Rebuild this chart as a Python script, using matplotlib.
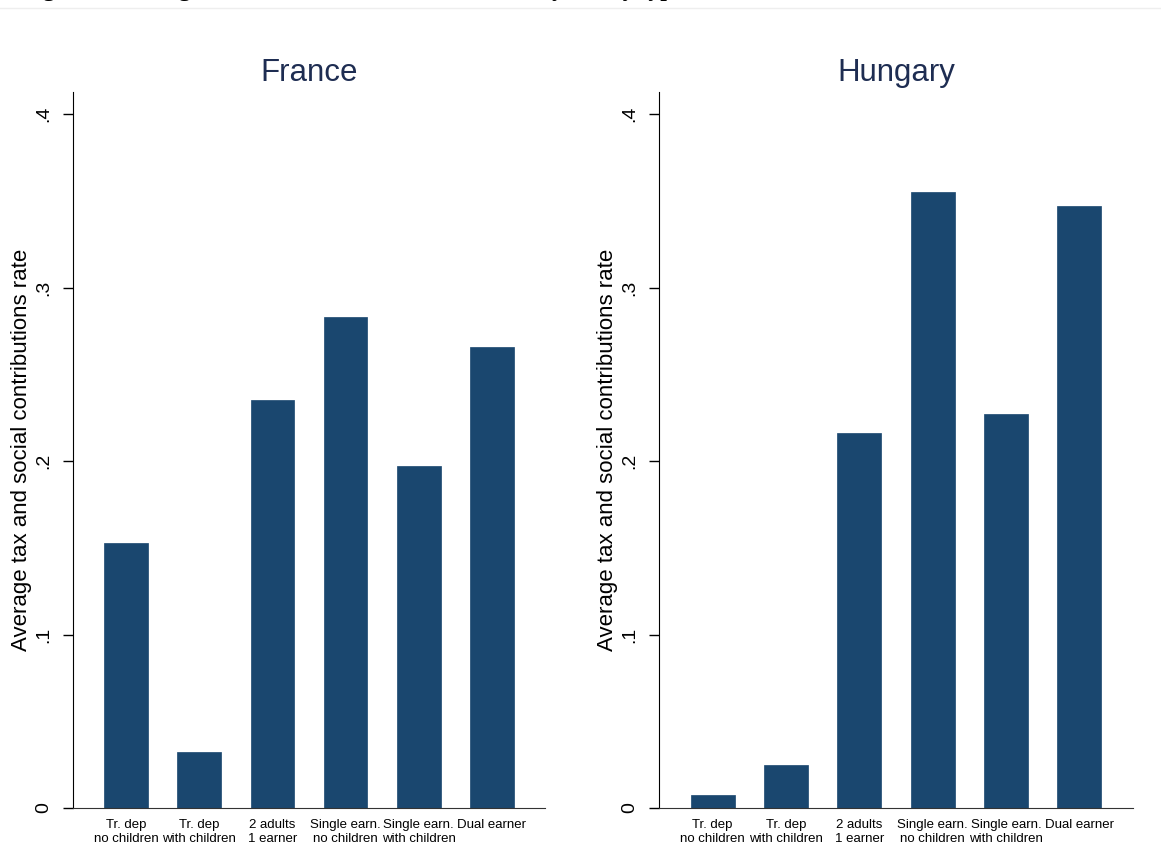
import numpy as np
import matplotlib.pyplot as plt
from matplotlib.lines import Line2D

plt.rcParams['font.family'] = ['Liberation Sans', 'DejaVu Sans']

# categorias (tipos de familia) e taxas medias
categories = ["Tr. dep\nno children", "Tr. dep\nwith children", "2 adults\n1 earner",
              "Single earn.\nno children", "Single earn.\nwith children", "Dual earner"]
france = [0.153, 0.032, 0.235, 0.283, 0.197, 0.266]
hungary = [0.0075, 0.025, 0.216, 0.355, 0.227, 0.347]
countries = ["France", "Hungary"]
yticks = [0, 0.1, 0.2, 0.3, 0.4]
ytick_labels = ["0", ".1", ".2", ".3", ".4"]

W, H = 1161, 846
fig = plt.figure(figsize=(W / 100, H / 100), dpi=100)

bar_color = "#1a476f"
title_color = "#1e2d52"

# posicoes dos eixos em pixels (esquerda, direita)
boxes = [(73, 545), (659, 1133)]
top, bottom = 92, 808

x = np.arange(len(categories))
for (x0, x1), name, vals in zip(boxes, countries, [france, hungary]):
    ax = fig.add_axes([x0 / W, 1 - bottom / H, (x1 - x0) / W, (bottom - top) / H])
    ax.bar(x, vals, width=0.6, color=bar_color, edgecolor=bar_color, linewidth=0.5)
    ax.set_xlim(-0.73, 5.73)
    ax.set_ylim(0, 0.4127)
    ax.set_yticks(yticks)
    ax.set_yticklabels(ytick_labels, rotation=90, va="center", fontsize=14)
    ax.set_xticks(x)
    ax.set_xticklabels(categories, fontsize=9.5, linespacing=1.2)
    ax.tick_params(axis="x", length=0, pad=8)
    ax.tick_params(axis="y", length=7, width=1, pad=8, color="black")
    for s in ["top", "right"]:
        ax.spines[s].set_visible(False)
    ax.spines["left"].set_color("black")
    ax.spines["bottom"].set_color("#333333")
    ax.set_ylabel("Average tax and social contributions rate", fontsize=16, labelpad=2)
    ax.set_title(name, fontsize=22.5, color=title_color, pad=8)

# titulo cortado no topo da imagem (so as descendentes aparecem)
fig.text(22 / W, 1 + 3.5 / H, "Figure 4: Average tax and social contribution rates by family type in selected countries, 2013",
         fontsize=17, fontweight="bold", family="Liberation Serif", va="baseline", ha="left")
fig.add_artist(Line2D([0, 1], [1 - 8.5 / H, 1 - 8.5 / H], color="#eeeeee", lw=1))

fig.savefig("out.png", dpi=100)
